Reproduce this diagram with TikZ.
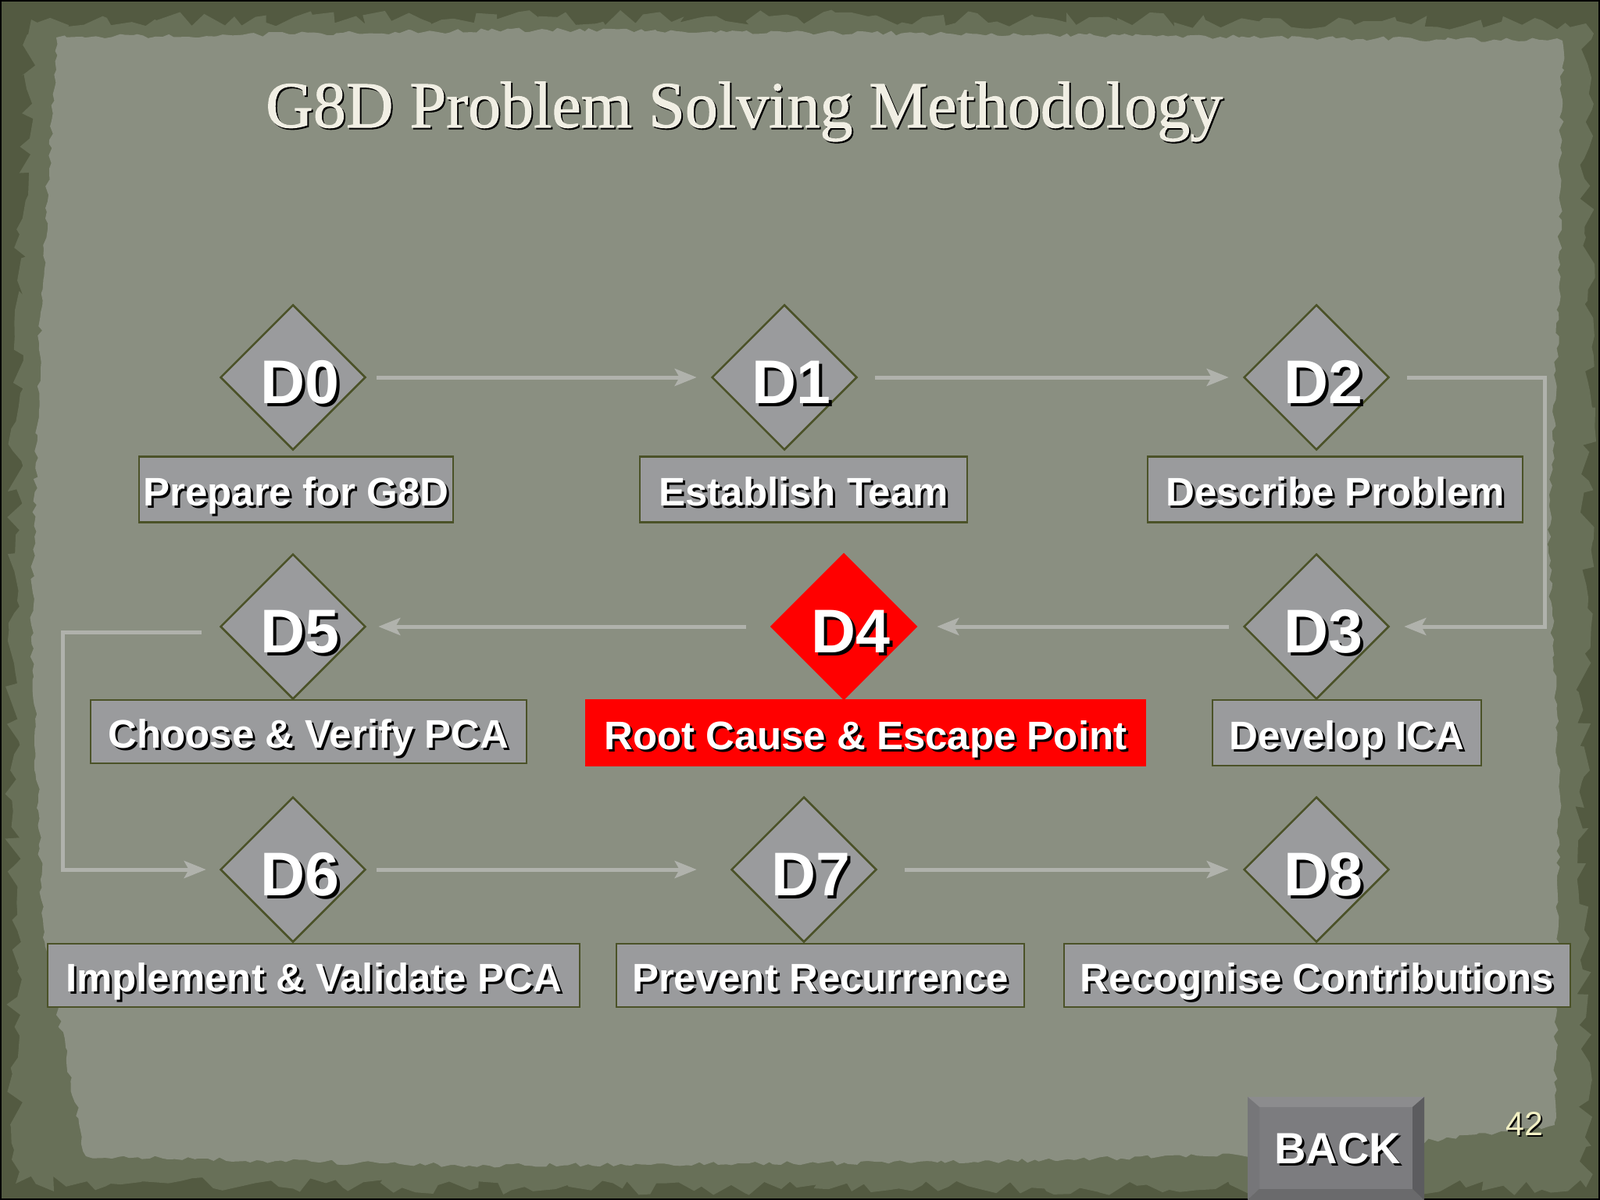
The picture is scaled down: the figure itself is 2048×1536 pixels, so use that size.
\documentclass[tikz,border=0pt]{standalone}
\usepackage{fontspec}
\setmainfont{Liberation Serif}
\setsansfont{Liberation Sans}
\newfontfamily\titlefont{Liberation Serif}[FakeBold=1.2]
\usetikzlibrary{shapes.geometric,arrows.meta,decorations.pathmorphing,calc}
\definecolor{outerbg}{HTML}{535A41}
\definecolor{ringbg}{HTML}{687058}
\definecolor{paper}{HTML}{8A8F81}
\definecolor{boxfill}{HTML}{9A9B9D}
\definecolor{olive}{HTML}{4B5228}
\definecolor{arrowgray}{HTML}{B0B2AC}
\definecolor{titlecol}{HTML}{F1EFE4}
\definecolor{numcol}{HTML}{F2F0C4}
\newcommand\shad[2][3pt]{\rlap{\hspace*{#1}\raisebox{-#1}{\textcolor{black}{#2}}}#2}
\begin{document}
\begin{tikzpicture}[x=1pt,y=-1pt,
  dmd/.style={diamond, aspect=1, inner sep=0pt, minimum width=186pt, minimum height=186pt,
    fill=boxfill, draw=olive, line width=2.5pt, text=white, text height=66pt, text depth=0pt,
    font=\fontsize{79}{82}\selectfont\sffamily\bfseries},
  lbl/.style={rectangle, inner sep=0pt, minimum height=84pt, fill=boxfill, draw=olive,
    line width=2.5pt, text=white, text height=52pt, text depth=10pt,
    font=\fontsize{51}{55}\selectfont\sffamily\bfseries},
  hot/.style={fill=red, draw=red},
  flow/.style={draw=arrowgray, line width=5pt, -{Stealth[length=28pt,width=22pt,inset=6pt]}},
]
\useasboundingbox (0,0) rectangle (2048,1536);
% background
\fill[outerbg] (0,0) rectangle (2048,1536);
\fill[ringbg, decorate, decoration={random steps, segment length=14pt, amplitude=10pt}]
  (40,25) -- (1020,22) -- (2030,30) -- (2035,500) -- (2025,1000) -- (2030,1520)
  -- (1000,1522) -- (20,1515) -- (15,900) -- (25,300) -- cycle;
\fill[paper, decorate, decoration={random steps, segment length=8pt, amplitude=3pt}]
  (72,48) -- (700,38) -- (1400,45) -- (2000,52) -- (1995,400) -- (1982,700)
  -- (1996,1000) -- (1992,1300) -- (1990,1440) -- (1700,1476) -- (1200,1488)
  -- (600,1492) -- (110,1480) -- (55,1200) -- (40,800) -- (52,400) -- cycle;
\draw[black, line width=4pt] (0,0) rectangle (2048,1536);

% title
\node[anchor=base west, inner sep=0pt, text=titlecol, font=\fontsize{84}{90}\selectfont\titlefont]
  (title) at (340,163) {\shad[2pt]{G8D Problem Solving Methodology}};

% diamonds
\node[dmd] (D0) at (375,483) {\hspace*{18pt}\shad[4pt]{D0}};
\node[dmd] (D1) at (1004,483) {\hspace*{18pt}\shad[4pt]{D1}};
\node[dmd] (D2) at (1685,483) {\hspace*{18pt}\shad[4pt]{D2}};
\node[dmd] (D5) at (375,802) {\hspace*{18pt}\shad[4pt]{D5}};
\node[dmd,hot] (D4) at (1080,802) {\hspace*{18pt}\shad[4pt]{D4}};
\node[dmd] (D3) at (1685,802) {\hspace*{18pt}\shad[4pt]{D3}};
\node[dmd] (D6) at (375,1113) {\hspace*{18pt}\shad[4pt]{D6}};
\node[dmd] (D7) at (1029,1113) {\hspace*{18pt}\shad[4pt]{D7}};
\node[dmd] (D8) at (1685,1113) {\hspace*{18pt}\shad[4pt]{D8}};

% label boxes
\node[lbl, minimum width=402pt] (B0) at (379,626.5) {\shad{Prepare for G8D}};
\node[lbl, minimum width=419pt] (B1) at (1028.5,626.5) {\shad{Establish Team}};
\node[lbl, minimum width=480pt] (B2) at (1709,626.5) {\shad{Describe Problem}};
\node[lbl, minimum width=558pt, minimum height=81pt] (B5) at (395,936.5) {\shad{Choose \& Verify PCA}};
\node[lbl, hot, minimum width=716pt] (B4) at (1108,938) {\shad{Root Cause \& Escape Point}};
\node[lbl, minimum width=344pt] (B3) at (1724,938) {\shad{Develop ICA}};
\node[lbl, minimum width=681pt, minimum height=81pt] (B6) at (401.5,1248.5) {\shad{Implement \& Validate PCA}};
\node[lbl, minimum width=522pt, minimum height=81pt] (B7) at (1050,1248.5) {\shad{Prevent Recurrence}};
\node[lbl, minimum width=648pt, minimum height=81pt] (B8) at (1686,1248.5) {\shad{Recognise Contributions}};

% connectors
\draw[flow, shorten <=13pt, shorten >=18pt] (D0) -- (D1);
\draw[flow, shorten <=22pt, shorten >=18pt] (D1) -- (D2);
\draw[flow, shorten <=22pt, shorten >=18pt] (D2.east) -- ++(198,0) |- (D3.east);
\draw[flow, shorten <=18pt, shorten >=25pt] (D3) -- (D4);
\draw[flow, shorten <=31pt, shorten >=15pt] (D4) -- (D5);
\draw[flow, shorten <=23pt, shorten >=17pt] (D5.west) ++(0,7) -- ++(-200,0) |- (D6.west);
\draw[flow, shorten <=13pt, shorten >=43pt] (D6) -- (D7);
\draw[flow, shorten <=35pt, shorten >=18pt] (D7) -- (D8);

% BACK button
\fill[fill={rgb,255:red,124;green,124;blue,127}] (1612,1417) rectangle (1808,1522);
\fill[fill={rgb,255:red,140;green,140;blue,142}] (1597,1404) -- (1823,1404) -- (1808,1417) -- (1612,1417) -- cycle;
\fill[fill={rgb,255:red,118;green,118;blue,121}] (1597,1404) -- (1612,1417) -- (1612,1522) -- (1597,1536) -- cycle;
\fill[fill={rgb,255:red,92;green,92;blue,95}] (1823,1404) -- (1808,1417) -- (1808,1522) -- (1823,1536) -- cycle;
\fill[fill={rgb,255:red,106;green,106;blue,108}] (1597,1536) -- (1612,1522) -- (1808,1522) -- (1823,1536) -- cycle;
\node[text=white, font=\fontsize{56}{60}\selectfont\sffamily\bfseries] (back) at (1712,1472) {\shad{BACK}};

% page number
\node[text=numcol, font=\fontsize{43}{46}\selectfont\sffamily] (pg) at (1951,1439) {\shad[2pt]{42}};
\end{tikzpicture}
\end{document}
